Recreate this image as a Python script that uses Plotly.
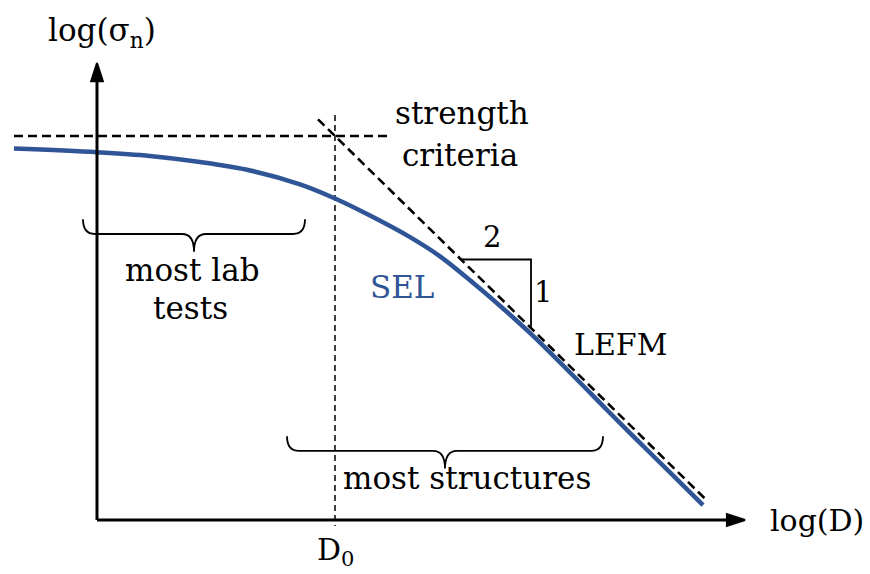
import plotly.graph_objects as go

# ---- data (log-log units: x = log(D/D0), y = log(sigma_n / strength)) ----
sel_x = [-3.21, -2.38, -1.85, -1.35, -0.85, -0.35, 0.00, 0.35, 0.75, 1.05,
         1.38, 1.72, 1.96, 2.38, 2.72, 3.05, 3.38, 3.68]
sel_y = [-0.064, -0.083, -0.102, -0.133, -0.176, -0.247, -0.319, -0.406, -0.516, -0.614,
         -0.749, -0.898, -1.010, -1.222, -1.398, -1.566, -1.732, -1.883]

strength_x = [-3.21, 0.52]
strength_y = [0.0, 0.0]

lefm_slope = -0.5
lefm_x = [-0.17, 3.70]

d0_x = [0.0, 0.0]
d0_y = [0.107, -1.99]

axis_origin = (-2.38, -1.959)
x_axis_end = 4.10
y_axis_end = 0.372

slope_tri_x = [1.26, 1.96]          # triangle legs sit on the LEFM line
lab_brace = (-2.52, -0.30, -0.50)   # x0, x1, y of brace body
struct_brace = (-0.48, 2.68, -1.607)

BLUE = "#2F5597"
FONT = "DejaVu Serif"

lefm_y = [lefm_slope * v for v in lefm_x]
tri_y = [lefm_slope * v for v in slope_tri_x]

fig = go.Figure()

# strength criterion (horizontal asymptote)
fig.add_trace(go.Scatter(x=strength_x, y=strength_y, mode="lines",
                         line=dict(color="black", width=2.6, dash="9px,5px"),
                         hoverinfo="skip"))
# LEFM asymptote
fig.add_trace(go.Scatter(x=lefm_x, y=lefm_y, mode="lines",
                         line=dict(color="black", width=2.6, dash="9px,5px"),
                         hoverinfo="skip"))
# transitional size D0
fig.add_trace(go.Scatter(x=d0_x, y=d0_y, mode="lines",
                         line=dict(color="black", width=1.5, dash="6px,4px"),
                         hoverinfo="skip"))
# size effect law
fig.add_trace(go.Scatter(x=sel_x, y=sel_y, mode="lines",
                         line=dict(color=BLUE, width=4.5, shape="spline", smoothing=1.0),
                         hoverinfo="skip"))
# slope triangle 2:1
fig.add_trace(go.Scatter(x=[slope_tri_x[0], slope_tri_x[1], slope_tri_x[1]],
                         y=[tri_y[0], tri_y[0], tri_y[1]], mode="lines",
                         line=dict(color="black", width=1.8), hoverinfo="skip"))

# coordinate axes with arrow heads at their ends
arrow_marker = dict(symbol="arrow", angleref="previous", size=[0, 19], color="black",
                    opacity=1, line=dict(width=2, color="black"))
fig.add_trace(go.Scatter(x=[axis_origin[0], axis_origin[0]], y=[axis_origin[1], y_axis_end],
                         mode="lines+markers", line=dict(color="black", width=3),
                         marker=arrow_marker, hoverinfo="skip"))
fig.add_trace(go.Scatter(x=[axis_origin[0], x_axis_end], y=[axis_origin[1], axis_origin[1]],
                         mode="lines+markers", line=dict(color="black", width=3),
                         marker=arrow_marker, hoverinfo="skip"))


def brace_path(x0, x1, yb, rx=0.12, ry=0.075, tip=0.09):
    xm = (x0 + x1) / 2
    return (f"M {x0},{yb + ry} Q {x0},{yb} {x0 + rx},{yb} "
            f"L {xm - rx},{yb} Q {xm},{yb} {xm},{yb - tip} "
            f"Q {xm},{yb} {xm + rx},{yb} "
            f"L {x1 - rx},{yb} Q {x1},{yb} {x1},{yb + ry}")


shapes = []
for b in (lab_brace, struct_brace):
    shapes.append(dict(type="path", path=brace_path(*b), xref="x", yref="y",
                       line=dict(color="black", width=1.8)))

annotations = []


def label(x, y, text, size=31, color="black"):
    annotations.append(dict(x=x, y=y, xref="x", yref="y", text=text, showarrow=False,
                            xanchor="center", yanchor="middle",
                            font=dict(family=FONT, size=size, color=color)))


label(-2.33, 0.53, "log(σ<sub>n</sub>)", 31)
label(1.27, 0.117, "strength")
label(1.25, -0.097, "criteria")
label(-1.43, -0.684, "most lab")
label(-1.45, -0.878, "tests")
label(0.67, -0.770, "SEL", 31, BLUE)
label(1.57, -0.515, "2", 29)
label(2.08, -0.796, "1", 29)
label(2.85, -1.066, "LEFM", 30)
label(1.32, -1.745, "most structures")
label(4.82, -1.964, "log(D)", 30)
label(0.0, -2.122, "D<sub>0</sub>", 30)

fig.update_layout(
    width=870, height=574,
    margin=dict(l=0, r=0, t=0, b=0),
    paper_bgcolor="white", plot_bgcolor="white",
    showlegend=False,
    font=dict(family=FONT),
    xaxis=dict(range=[-3.35, 5.35], visible=False, fixedrange=True),
    yaxis=dict(range=[-2.2347, 0.6939], visible=False, fixedrange=True),
    shapes=shapes, annotations=annotations,
)

fig.write_html("out.html")
